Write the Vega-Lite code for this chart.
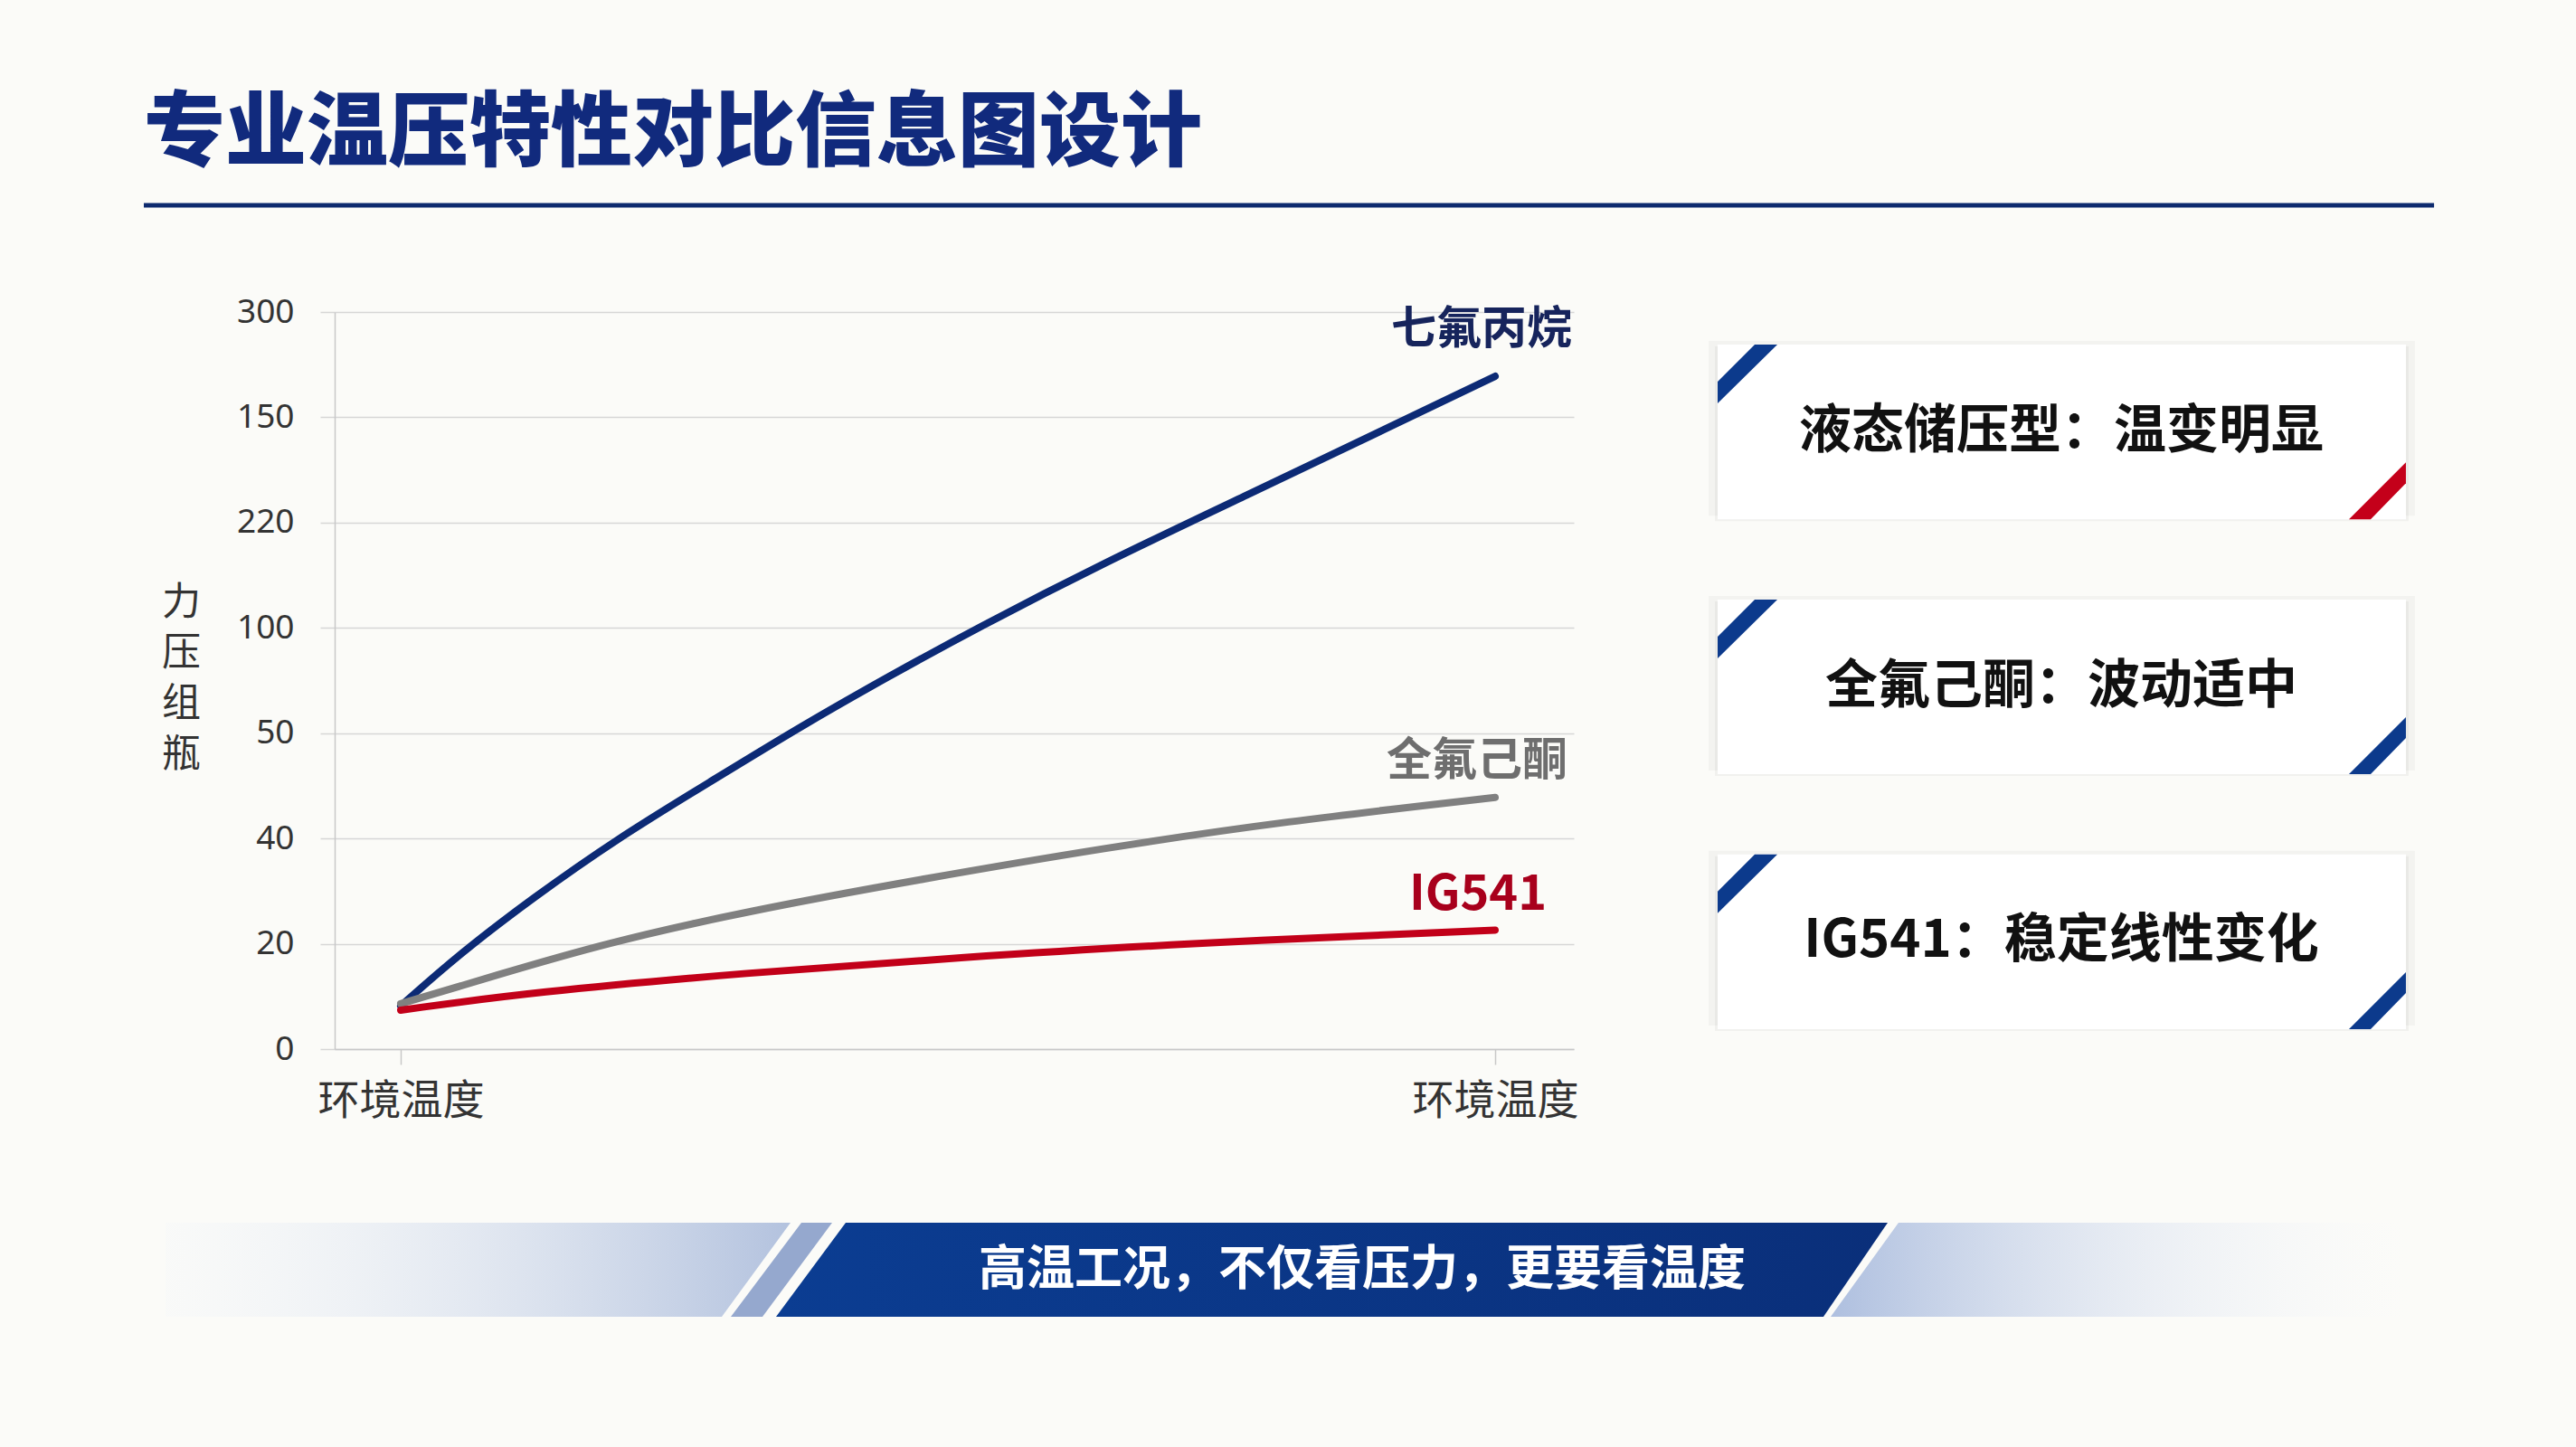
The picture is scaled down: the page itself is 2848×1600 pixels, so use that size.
{
  "$schema": "https://vega.github.io/schema/vega-lite/v6.json",
  "width": 1370,
  "height": 815,
  "autosize": {"type": "none"},
  "padding": {"left": 370, "top": 345, "right": 1108, "bottom": 440},
  "background": "#fbfbf8",
  "config": {"view": {"stroke": null}, "font": "Noto Sans CJK SC"},
  "datasets": {
    "curves": [
      {"series": "七氟丙烷", "x": 0, "y": 0.41},
      {"series": "七氟丙烷", "x": 5.45, "y": 0.91},
      {"series": "七氟丙烷", "x": 12, "y": 1.43},
      {"series": "七氟丙烷", "x": 19.8, "y": 2.0},
      {"series": "七氟丙烷", "x": 28.3, "y": 2.54},
      {"series": "七氟丙烷", "x": 36.8, "y": 3.08},
      {"series": "七氟丙烷", "x": 44.6, "y": 3.54},
      {"series": "七氟丙烷", "x": 52.5, "y": 3.99},
      {"series": "七氟丙烷", "x": 64.3, "y": 4.62},
      {"series": "七氟丙烷", "x": 77.3, "y": 5.26},
      {"series": "七氟丙烷", "x": 90.4, "y": 5.91},
      {"series": "七氟丙烷", "x": 100, "y": 6.39},
      {"series": "全氟己酮", "x": 0, "y": 0.43},
      {"series": "全氟己酮", "x": 8.7, "y": 0.7},
      {"series": "全氟己酮", "x": 18.5, "y": 1.0},
      {"series": "全氟己酮", "x": 31.6, "y": 1.31},
      {"series": "全氟己酮", "x": 47.9, "y": 1.62},
      {"series": "全氟己酮", "x": 64.3, "y": 1.91},
      {"series": "全氟己酮", "x": 80.6, "y": 2.16},
      {"series": "全氟己酮", "x": 100, "y": 2.39},
      {"series": "IG541", "x": 0, "y": 0.37},
      {"series": "IG541", "x": 12, "y": 0.54},
      {"series": "IG541", "x": 31.6, "y": 0.725},
      {"series": "IG541", "x": 51.2, "y": 0.87},
      {"series": "IG541", "x": 70.8, "y": 1.0},
      {"series": "IG541", "x": 100, "y": 1.13}
    ],
    "cards": [
      {"card": "液态储压型：温变明显"},
      {"card": "全氟己酮：波动适中"},
      {"card": "IG541：稳定线性变化"}
    ],
    "heading": [{"text": "专业温压特性对比信息图设计"}],
    "banner": [{"text": "高温工况，不仅看压力，更要看温度"}]
  },
  "layer": [
    {
      "layer": [
        {
          "data": {"name": "curves"},
          "mark": {"type": "line", "interpolate": "basis", "strokeWidth": 8, "strokeCap": "round"},
          "encoding": {
            "x": {
              "field": "x",
              "type": "quantitative",
              "scale": {"domain": [-6.033, 107.19], "nice": false, "zero": false},
              "axis": {
                "values": [0, 100],
                "labelExpr": "'环境温度'",
                "title": null,
                "grid": false,
                "labelFontSize": 46,
                "labelColor": "#333333",
                "labelFont": "Noto Sans CJK SC",
                "labelLimit": 0,
                "tickSize": 17,
                "tickColor": "#c8c8c8",
                "tickWidth": 1.5,
                "domainColor": "#c8c8c8",
                "domainWidth": 1.5,
                "labelPadding": 18,
                "labelFlush": false
              }
            },
            "y": {
              "field": "y",
              "type": "quantitative",
              "scale": {"domain": [0, 7], "nice": false, "zero": false},
              "axis": {
                "values": [0, 1, 2, 3, 4, 5, 6, 7],
                "labelExpr": "['0','20','40','50','100','220','150','300'][datum.value]",
                "grid": true,
                "gridColor": "#d6d6d6",
                "gridWidth": 1.5,
                "tickSize": 16,
                "tickColor": "#d6d6d6",
                "tickWidth": 1.5,
                "domainColor": "#c8c8c8",
                "domainWidth": 1.5,
                "labelFontSize": 37,
                "labelColor": "#333333",
                "labelFont": "Noto Sans",
                "labelPadding": 29,
                "title": ["力", "压", "组", "瓶"],
                "titleAngle": 0,
                "titleX": -170,
                "titleY": 300,
                "titleAlign": "center",
                "titleBaseline": "top",
                "titleFontSize": 43,
                "titleFontWeight": "normal",
                "titleColor": "#333333",
                "titleLineHeight": 56,
                "titleFont": "Noto Sans CJK SC"
              }
            },
            "color": {
              "field": "series",
              "type": "nominal",
              "scale": {"domain": ["七氟丙烷", "全氟己酮", "IG541"], "range": ["#0c2a75", "#808080", "#c20019"]},
              "legend": null
            }
          }
        },
        {
          "data": {"name": "curves"},
          "transform": [{"filter": "datum.series === '七氟丙烷' && datum.x === 100"}],
          "mark": {"type": "text", "align": "right", "baseline": "middle", "dx": 85, "dy": -51, "fontSize": 50, "fontWeight": "bold", "color": "#16245c"},
          "encoding": {
            "x": {"field": "x", "type": "quantitative"},
            "y": {"field": "y", "type": "quantitative"},
            "text": {"field": "series"}
          }
        },
        {
          "data": {"name": "curves"},
          "transform": [{"filter": "datum.series === '全氟己酮' && datum.x === 100"}],
          "mark": {"type": "text", "align": "right", "baseline": "middle", "dx": 80, "dy": -40, "fontSize": 50, "fontWeight": "bold", "color": "#6e6e6e"},
          "encoding": {
            "x": {"field": "x", "type": "quantitative"},
            "y": {"field": "y", "type": "quantitative"},
            "text": {"field": "series"}
          }
        },
        {
          "data": {"name": "curves"},
          "transform": [{"filter": "datum.series === 'IG541' && datum.x === 100"}],
          "mark": {"type": "text", "align": "right", "baseline": "middle", "dx": 57, "dy": -38, "fontSize": 54, "fontWeight": "bold", "color": "#a8001c"},
          "encoding": {
            "x": {"field": "x", "type": "quantitative"},
            "y": {"field": "y", "type": "quantitative"},
            "text": {"field": "series"}
          }
        },
        {
          "data": {"name": "heading"},
          "mark": {"type": "text", "align": "left", "baseline": "middle", "fontSize": 90, "fontWeight": 900, "color": "#112a7d"},
          "encoding": {
            "x": {"datum": -23.47},
            "y": {"datum": 8.68},
            "text": {"field": "text"}
          }
        },
        {
          "data": {"name": "heading"},
          "mark": {"type": "rule", "strokeWidth": 5, "color": "#0d2a6e"},
          "encoding": {
            "x": {"datum": -23.47},
            "x2": {"datum": 185.79},
            "y": {"datum": 8.013}
          }
        },
        {
          "data": {"name": "banner"},
          "mark": {
            "type": "point", "shape": "M0,0L691,0L615,104L0,104Z", "size": 4, "filled": true, "opacity": 1, "strokeWidth": 0,
            "fill": {"gradient": "linear", "x1": 0, "y1": 0, "x2": 1, "y2": 0, "stops": [{"offset": 0, "color": "rgba(240,244,250,0.2)"}, {"offset": 1, "color": "#b3c2de"}]}
          },
          "encoding": {"x": {"datum": -21.49}, "y": {"datum": -1.649}}
        },
        {
          "data": {"name": "banner"},
          "mark": {"type": "point", "shape": "M703,0L737,0L660,104L625,104Z", "size": 4, "filled": true, "opacity": 1, "strokeWidth": 0, "fill": "#95a8ce"},
          "encoding": {"x": {"datum": -21.49}, "y": {"datum": -1.649}}
        },
        {
          "data": {"name": "banner"},
          "mark": {
            "type": "point", "shape": "M752,0L1904,0L1833,104L675,104Z", "size": 4, "filled": true, "opacity": 1, "strokeWidth": 0,
            "fill": {"gradient": "linear", "x1": 0, "y1": 0, "x2": 1, "y2": 0, "stops": [{"offset": 0, "color": "#0b3d92"}, {"offset": 1, "color": "#0a2f7a"}]}
          },
          "encoding": {"x": {"datum": -21.49}, "y": {"datum": -1.649}}
        },
        {
          "data": {"name": "banner"},
          "mark": {
            "type": "point", "shape": "M1916,0L2517,0L2517,104L1841,104Z", "size": 4, "filled": true, "opacity": 1, "strokeWidth": 0,
            "fill": {"gradient": "linear", "x1": 0, "y1": 0, "x2": 1, "y2": 0, "stops": [{"offset": 0, "color": "#aebfdf"}, {"offset": 1, "color": "rgba(255,255,255,0)"}]}
          },
          "encoding": {"x": {"datum": -21.49}, "y": {"datum": -1.649}}
        },
        {
          "data": {"name": "banner"},
          "mark": {"type": "text", "align": "center", "baseline": "middle", "fontSize": 53, "fontWeight": "bold", "color": "#ffffff"},
          "encoding": {
            "x": {"datum": 87.85},
            "y": {"datum": -2.104},
            "text": {"field": "text"}
          }
        }
      ]
    },
    {
      "data": {"name": "cards"},
      "encoding": {
        "y": {
          "field": "card",
          "type": "nominal",
          "sort": null,
          "scale": {"type": "band", "range": [36, 793], "paddingInner": 0.315, "paddingOuter": 0},
          "axis": null
        }
      },
      "layer": [
        {
          "mark": {"type": "rect", "color": "#000000", "opacity": 0.03, "xOffset": -10, "x2Offset": 10, "yOffset": -4, "y2Offset": 24},
          "encoding": {"x": {"datum": 120.33}, "x2": {"datum": 183.22}}
        },
        {
          "mark": {"type": "rect", "color": "#000000", "opacity": 0.04, "xOffset": -3, "x2Offset": 3, "yOffset": 2, "y2Offset": 10},
          "encoding": {"x": {"datum": 120.33}, "x2": {"datum": 183.22}}
        },
        {
          "mark": {"type": "rect", "color": "#ffffff"},
          "encoding": {"x": {"datum": 120.33}, "x2": {"datum": 183.22}}
        },
        {
          "mark": {"type": "point", "shape": "M41,0L66,0L0,65L0,41Z", "size": 4, "filled": true, "opacity": 1, "strokeWidth": 0, "color": "#0c3a8c"},
          "encoding": {
            "x": {"datum": 120.33},
            "y": {"field": "card", "type": "nominal", "sort": null, "bandPosition": 0}
          }
        },
        {
          "mark": {"type": "point", "shape": "M0,-63L0,-40L-39,0L-63,0Z", "size": 4, "filled": true, "opacity": 1, "strokeWidth": 0},
          "encoding": {
            "x": {"datum": 183.22},
            "y": {"field": "card", "type": "nominal", "sort": null, "bandPosition": 1},
            "color": {
              "field": "card",
              "type": "nominal",
              "scale": {"domain": ["液态储压型：温变明显", "全氟己酮：波动适中", "IG541：稳定线性变化"], "range": ["#c4001a", "#0c3a8c", "#0c3a8c"]},
              "legend": null
            }
          }
        },
        {
          "mark": {"type": "text", "align": "center", "baseline": "middle", "fontSize": 58, "fontWeight": "bold", "color": "#111111"},
          "encoding": {
            "x": {"datum": 151.74},
            "text": {"field": "card"}
          }
        }
      ]
    }
  ],
  "resolve": {"scale": {"y": "independent", "color": "independent"}}
}
